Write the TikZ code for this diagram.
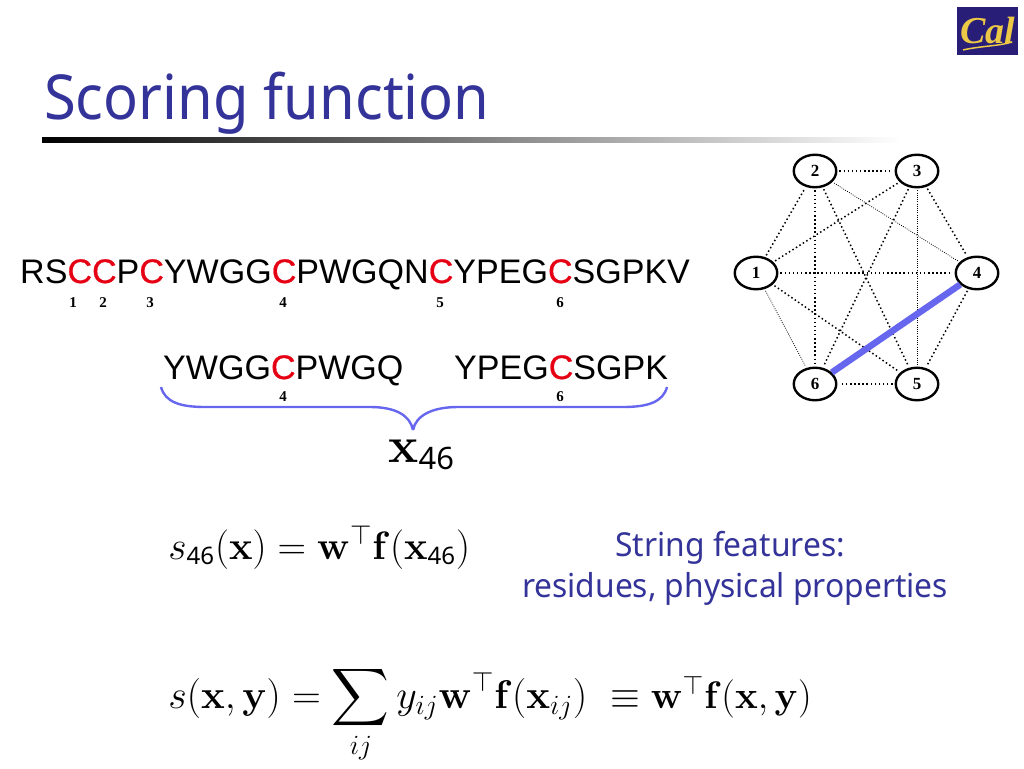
\documentclass[tikz,border=0pt]{standalone}
\usepackage[no-math]{fontspec}
\usepackage{amsmath}
\usepackage{bm}
\setmainfont{Liberation Sans}
\setsansfont{Noto Sans}
\newfontfamily\subfont{Noto Sans}[Scale=0.9]
\newfontfamily\numfont{Liberation Serif}
\newfontfamily\cysfont{Liberation Sans}[FakeBold=0.7]
\usetikzlibrary{positioning}
\usetikzlibrary{shapes.geometric}
\definecolor{titleblue}{RGB}{51,51,153}
\definecolor{bracecol}{RGB}{102,102,238}
\definecolor{resred}{RGB}{230,0,20}
\definecolor{calblue}{RGB}{40,30,120}
\definecolor{calgold}{RGB}{235,200,70}
\newcommand{\cys}{\textcolor{resred}{\cysfont C}}
\newcommand{\subnum}{\text{\subfont 46}}
\tikzset{
	residue/.style={inner sep=0pt, anchor=base west, font=\fontsize{34.05}{34}\selectfont},
	idx/.style={inner sep=0pt, font=\fontsize{15}{15}\selectfont\numfont\bfseries},
	bond/.style={draw, ellipse, line width=2.4pt, minimum width=42.5pt, minimum height=32.5pt, inner sep=0pt, font=\fontsize{17}{17}\selectfont\numfont\bfseries},
	eqn/.style={inner sep=0pt, anchor=base west, font=\fontsize{20}{24}\selectfont},
	note/.style={inner sep=0pt, align=center, text=titleblue, xscale=0.963, font=\fontsize{33}{41}\selectfont\sffamily},
}
\begin{document}
\begin{tikzpicture}[x=1pt, y=-1pt]
		\useasboundingbox (0,0) rectangle (1024,768);
		
		\node (title) [inner sep=0pt, anchor=base west, text=titleblue, xscale=0.933, font=\fontsize{62}{62}\selectfont\sffamily] at (44,119) {Scoring function};
		\node (rule) [inner sep=0pt, anchor=west, minimum width=860pt, minimum height=5pt, left color=black, right color=white] at (42,140) {};
		
		\node (logo) [inner sep=0pt, minimum width=61pt, minimum height=48pt, fill=calblue, text=calgold, font=\fontsize{38}{38}\selectfont\numfont\itshape\bfseries] at (987.5,31) {Cal};
		\coordinate (swooshleft) at (963,50);
		\coordinate (swooshright) at (1012,42);
		\draw [calgold, line width=1.5pt] (swooshleft) .. controls (980,46) and (1000,46) .. (swooshright);
		
		\node (seq) [residue] at (20,283) {RS\cys\cys P\cys YWGG\cys PWGQN\cys YPEG\cys SGPKV};
		\node (seqleft) [residue] at (163,379) {YWGG\cys PWGQ};
		\node (seqright) [residue] at (454,379) {YPEG\cys SGPK};
		
		\node (p1) [idx] at (73,303) {1};
		\node (p2) [idx] at (103,303) {2};
		\node (p3) [idx] at (150,303) {3};
		\node (p4) [idx] at (283,303) {4};
		\node (p5) [idx] at (440,303) {5};
		\node (p6) [idx] at (560,303) {6};
		\node (q4) [idx] at (283,397) {4};
		\node (q6) [idx] at (560,397) {6};
		
		\coordinate (braceleft) at (161,387);
		\coordinate (braceright) at (667,387);
		\coordinate (bracetip) at (413,430);
		\draw [bracecol, line width=2.4pt] (braceleft) .. controls (165,402) and (180,407) .. (205,407) -- (370,407) .. controls (395,407) and (410,415) .. (bracetip);
		\draw [bracecol, line width=2.4pt] (braceright) .. controls (663,402) and (648,407) .. (623,407) -- (458,407) .. controls (433,407) and (416,415) .. (bracetip);
		\node (xlabel) [eqn, scale=2.45] at (388,462) {$\mathbf{x}_{\subnum}$};
		
		\node (n1) [bond] at (756,273) {1};
		\node (n2) [bond] at (815,171) {2};
		\node (n3) [bond] at (917,171) {3};
		\node (n4) [bond] at (977,273) {4};
		\node (n5) [bond] at (917,384) {5};
		\node (n6) [bond] at (815,384) {6};
		
		\begin{scope}[line width=1.5pt, dash pattern=on 1.5pt off 2.6pt, black, shorten >=2pt, shorten <=2pt]
			\draw (n2) -- (n3);
			\draw (n1) -- (n2);
			\draw (n1) -- (n3);
			\draw (n1) -- (n4);
			\draw (n1) -- (n5);
			\draw (n2) -- (n5);
			\draw (n2) -- (n6);
			\draw (n3) -- (n4);
			\draw (n3) -- (n6);
			\draw (n4) -- (n5);
			\draw (n5) -- (n6);
		\end{scope}
		\begin{scope}[line width=0.8pt, dash pattern=on 0.8pt off 1.4pt, black, shorten >=2pt, shorten <=2pt]
			\draw (n2) -- (n4);
			\draw (n3) -- (n5);
			\draw (n1) -- (n6);
		\end{scope}
		\draw [bracecol, line width=6.5pt] (n4) -- (n6);
		
		\node (score) [eqn, scale=1.91] at (168,559) {$s_{\subnum}(\mathbf{x})=\mathbf{w}^{\top}\mathbf{f}(\mathbf{x}_{\subnum})$};
		\node (features) [note] at (735,568) {String features:\hspace*{10pt}\\residues, physical properties};
		\node (total) [eqn, scale=1.93] at (168,708) {$s(\mathbf{x},\mathbf{y})=\displaystyle\sum_{ij}y_{ij}\mathbf{w}^{\top}\mathbf{f}(\mathbf{x}_{ij})$};
		\node (equiv) [eqn, scale=1.85] at (610,708) {$\equiv\mathbf{w}^{\top}\mathbf{f}(\mathbf{x},\mathbf{y})$};
	\end{tikzpicture}
\end{document}
